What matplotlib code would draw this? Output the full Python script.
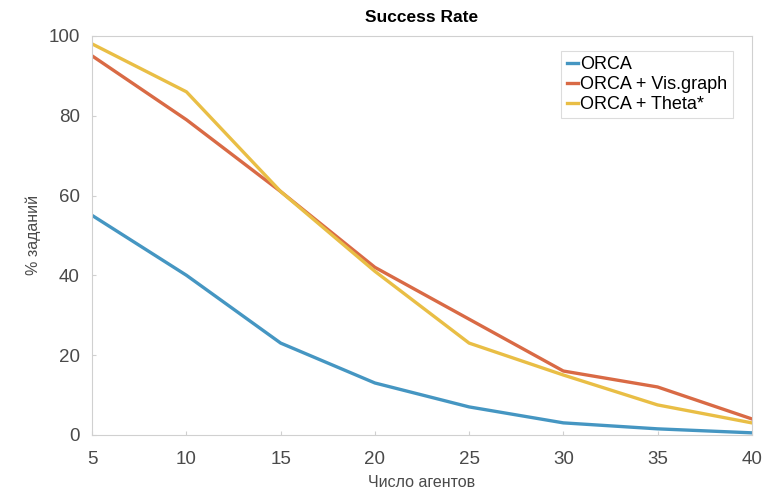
import matplotlib.pyplot as plt

agents = [5, 10, 15, 20, 25, 30, 35, 40]
orca = [55, 40, 23, 13, 7, 3, 1.5, 0.5]
orca_vis = [95, 79, 61, 42, 29, 16, 12, 4]
orca_theta = [98, 86, 61, 41, 23, 15, 7.5, 3]

plt.rcParams.update({
    "font.family": ["Liberation Sans", "DejaVu Sans"],
    "font.size": 13,
})

COLORS = ["#4596c2", "#d96a45", "#e9be45"]
SPINE = "#d0d0d0"
TEXT = "#4a4a4a"

fig = plt.figure(figsize=(7.75, 4.93), dpi=100)
ax = fig.add_axes([0.119, 0.118, 0.851, 0.809])

ax.plot(agents, orca, color=COLORS[0], lw=2.4, label="ORCA")
ax.plot(agents, orca_vis, color=COLORS[1], lw=2.4, label="ORCA + Vis.graph")
ax.plot(agents, orca_theta, color=COLORS[2], lw=2.4, label="ORCA + Theta*")

ax.set_xlim(5, 40)
ax.set_ylim(0, 100)
ax.set_xticks(agents)
ax.set_yticks([0, 20, 40, 60, 80, 100])
ax.tick_params(direction="in", length=3, color=SPINE, labelcolor=TEXT,
               labelsize=13.5)
ax.tick_params(axis="x", pad=12)
ax.tick_params(axis="y", pad=9)
for s in ax.spines.values():
    s.set_color(SPINE)
    s.set_linewidth(0.8)

ax.set_title("Success Rate", fontsize=12.5, fontweight="bold", pad=10)
ax.set_xlabel("Число агентов", fontsize=11.5, color=TEXT, labelpad=5)
ax.set_ylabel("% заданий", fontsize=11.5, color=TEXT, labelpad=5)

leg = ax.legend(loc="upper right", bbox_to_anchor=(0.985, 0.985),
                handlelength=0.6, handletextpad=0.15, borderpad=0.3,
                labelspacing=0.15, fontsize=13, fancybox=False,
                framealpha=1)
leg.get_frame().set_edgecolor("#dcdcdc")
leg.get_frame().set_linewidth(0.8)

fig.savefig("out.png", dpi=100, facecolor="white")
